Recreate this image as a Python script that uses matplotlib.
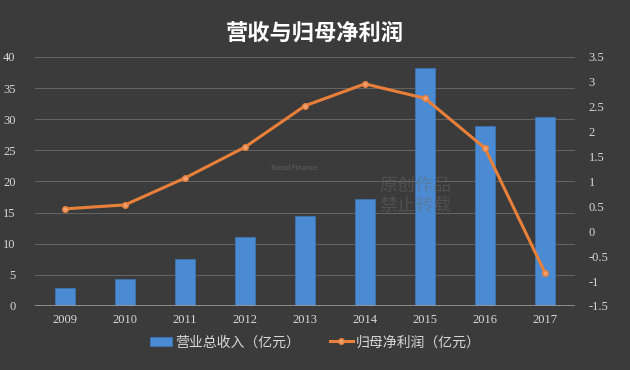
import matplotlib.pyplot as plt
import numpy as np

plt.rcParams['font.family'] = ['Noto Sans CJK SC', 'DejaVu Sans']

years = ['2009', '2010', '2011', '2012', '2013', '2014', '2015', '2016', '2017']
revenue = [2.9, 4.3, 7.5, 11.1, 14.5, 17.2, 38.2, 28.9, 30.4]
net_profit = [0.45, 0.53, 1.07, 1.69, 2.52, 2.96, 2.67, 1.67, -0.83]

bg = '#3b3b3b'
txt = '#d8d8d8'

fig = plt.figure(figsize=(6.3, 3.7), dpi=100)
fig.patch.set_facecolor(bg)
ax = fig.add_axes([0.0556, 0.173, 0.857, 0.673])
ax.set_facecolor(bg)

x = np.arange(len(years))
bars = ax.bar(x, revenue, width=0.33, color='#4a8bd3', edgecolor='#3a78bd',
              linewidth=0.5, zorder=3, label='营业总收入（亿元）')
ax.set_ylim(0, 40)
ax.set_yticks(range(0, 41, 5))
ax.set_xlim(-0.5, len(years) - 0.5)
ax.set_xticks(x)
ax.set_xticklabels(years)
ax.grid(axis='y', color='#666666', linewidth=0.7, zorder=0)
for s in ax.spines.values():
    s.set_visible(False)
ax.axhline(0, color='#9a9a9a', linewidth=1.2, zorder=4)
ax.tick_params(length=0, colors=txt, labelsize=9)
ax.tick_params(axis='y', pad=14)
ax.tick_params(axis='x', pad=6)
for lab in ax.get_xticklabels() + ax.get_yticklabels():
    lab.set_family('Liberation Serif')

ax2 = ax.twinx()
ax2.set_ylim(-1.5, 3.5)
ax2.set_yticks(np.arange(-1.5, 3.6, 0.5))
ax2.set_yticklabels(['-1.5', '-1', '-0.5', '0', '0.5', '1', '1.5', '2', '2.5', '3', '3.5'])
line, = ax2.plot(x, net_profit, color='#e8803a', linewidth=2.2, marker='o',
                 markersize=4, markerfacecolor='#f0a070', markeredgecolor='#e8803a',
                 zorder=5, label='归母净利润（亿元）')
for s in ax2.spines.values():
    s.set_visible(False)
ax2.tick_params(length=0, colors=txt, labelsize=9, pad=10)
for lab in ax2.get_yticklabels():
    lab.set_family('Liberation Serif')

# watermark
fig.text(0.43, 0.545, 'Bread Finance', color='#7a7a7a', fontsize=5, alpha=0.6,
         ha='left', va='center')
fig.text(0.66, 0.47, '原创作品\n禁止转载', color='#6a6a6a', fontsize=13, alpha=0.45,
         ha='center', va='center', linespacing=1.1)

fig.text(0.5, 0.91, '营收与归母净利润', color='white', fontsize=16,
         fontweight='bold', ha='center', va='center')

fig.legend([bars, line], ['营业总收入（亿元）', '归母净利润（亿元）'],
           loc='center', bbox_to_anchor=(0.5, 0.075), ncol=2, frameon=False,
           labelcolor=txt, fontsize=10, handlelength=1.6, columnspacing=2.2,
           handletextpad=0.2)

fig.savefig('out.png', dpi=100, facecolor=bg)
